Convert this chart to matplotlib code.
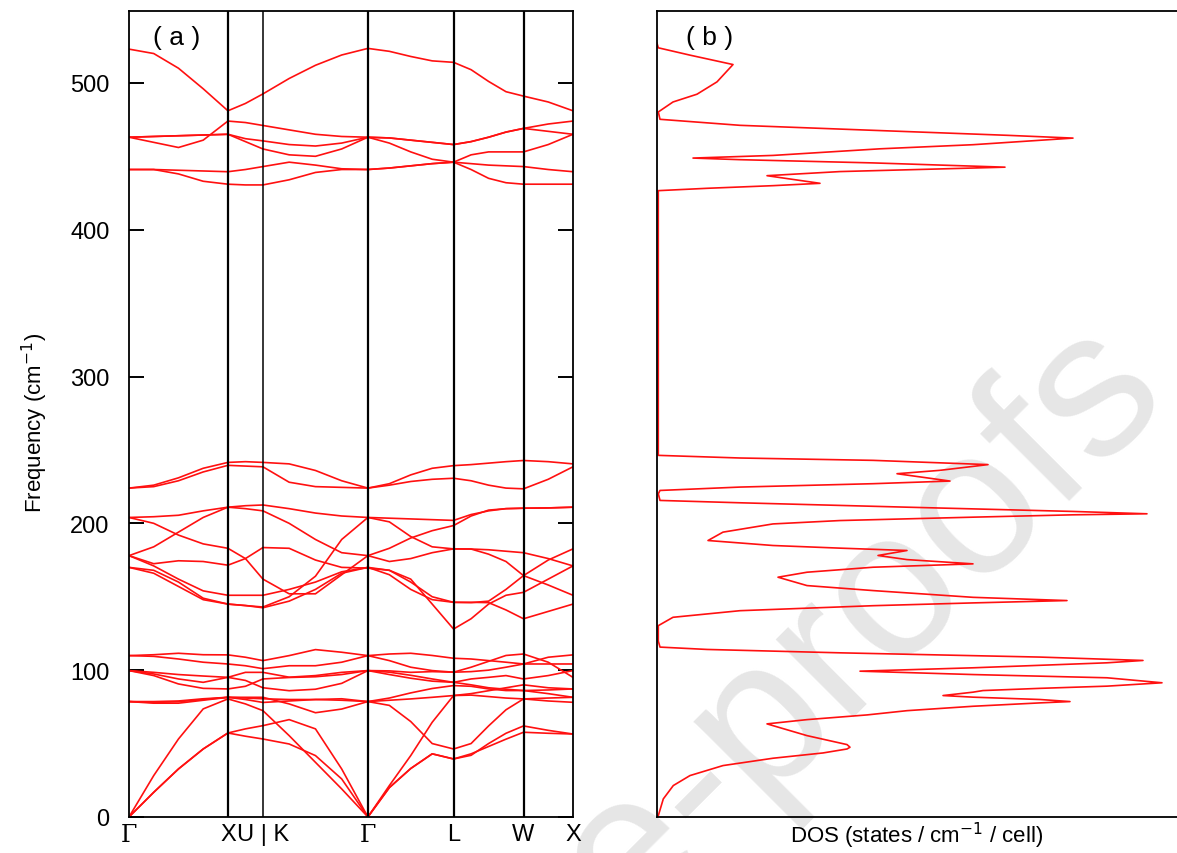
import numpy as np
import matplotlib
matplotlib.use('Agg')
import matplotlib.pyplot as plt

plt.rcParams['font.family'] = ['Liberation Sans', 'DejaVu Sans']

# k-path sampling (units of 2pi/a): G-X, X-U|K, K-G, G-L, L-W, W-X
kpts = [0, 0.25, 0.5, 0.75, 1.0, 1.177, 1.354, 1.619, 1.885, 2.150, 2.415,
        2.632, 2.848, 3.065, 3.281, 3.458, 3.635, 3.811, 3.988, 4.238, 4.488]
kticks = [0, 1.0, 1.354, 2.415, 3.281, 3.988, 4.488]
klabels = ['Γ', 'X', 'U | K', 'Γ', 'L', 'W', 'X']

# phonon branches (cm^-1), read at each k-point
acoustic = [
    [0, 16.8, 32.7, 46.3, 57.2, 60, 62.2, 66.3, 60, 32.7, 0, 20, 33, 43, 39.5, 42, 50, 57, 62, 59, 56.5],
    [0, 16.8, 32.7, 46.3, 57.2, 55, 53.1, 49.7, 41.8, 25.9, 0, 20, 33, 43, 39.5, 43, 48, 53, 57.7, 57, 56.5],
    [0, 28.2, 53.1, 73.6, 80.4, 77, 72.4, 55.4, 37.2, 19.1, 0, 21.4, 41.8, 64.5, 82.7, 84, 86, 88, 90, 88, 87.2],
]
optic_low = [
    [78.6, 77.5, 77.5, 79.5, 81.5, 81, 80.5, 80, 80, 79.5, 78.6, 76, 65, 50, 46.3, 50, 62, 73, 80.4, 79, 78.1],
    [78.6, 78, 78.5, 80, 81.5, 81.5, 81.5, 77, 71, 73.5, 78.6, 81, 84.5, 87.5, 89.5, 89, 87.2, 86.1, 86.1, 84, 81.5],
    [78.6, 78.6, 79, 80.5, 81.5, 80, 78, 79, 80, 80.5, 78.6, 79.5, 80.4, 81.5, 82.7, 83, 82, 81, 80.4, 81, 81.5],
    [99.7, 97.4, 94, 91.7, 95.1, 98.5, 98.5, 95.2, 96.3, 98.5, 99.7, 98.6, 96.5, 94, 91.7, 94, 95.1, 96.3, 94, 96.3, 99.7],
    [99.7, 96.3, 90.6, 87.6, 87.2, 89, 94, 95, 95.5, 97, 99.7, 99.5, 98.5, 99, 98.6, 102, 106, 110, 111, 105.4, 95.1],
    [99.7, 98.5, 97, 96, 95.1, 93, 88, 86, 87, 91, 99.7, 97, 94.5, 92.5, 91.7, 90, 88, 87, 86.1, 86.5, 87.2],
    [109.9, 110.5, 111.5, 110.5, 110.4, 108.8, 106.5, 109.9, 114, 112.2, 109.9, 111, 111.5, 110, 108.1, 107.6, 106.5, 105.4, 104.2, 108.8, 110.4],
    [109.9, 109.4, 107.6, 105.4, 104.2, 103, 101, 103, 103, 105.4, 109.9, 106.5, 102, 99.7, 98.6, 99, 100, 102, 104.2, 104.2, 104.2],
]
optic_mid = [
    [224, 226, 231, 237.5, 241.5, 242, 241.5, 240.5, 236, 229, 224, 227, 233, 237.5, 239.3, 240, 241, 242, 242.8, 242, 240.5],
    [224, 225, 229, 235, 239.5, 239, 238.5, 228, 225, 224.5, 224, 226, 228.5, 230, 230.7, 229, 226, 224, 223.5, 230, 238.5],
    [204, 204.5, 205.5, 208.5, 211, 212, 212.5, 210, 207, 205, 204, 203.5, 203, 202.5, 202, 206, 208.5, 210, 210.3, 210.5, 211],
    [204, 200, 192, 186, 183, 176, 162, 152, 152, 165, 178, 183, 190, 195, 198.5, 205, 209, 210, 210.3, 210.5, 211],
    [178, 184, 194, 204, 211, 210, 208.5, 200, 189, 180, 178, 174, 176, 180, 182.6, 182.5, 182, 181, 180, 176, 171],
    [178, 172.5, 174.5, 174, 171.5, 176, 183.5, 183, 175, 170, 169.5, 168, 160, 150, 146.2, 146.2, 146, 141, 135, 140, 145],
    [178, 171, 162, 154, 151, 151, 151, 155, 160, 167, 170, 168, 162, 145, 128, 135, 145, 151, 153, 162, 171],
    [170, 166, 157, 148, 145, 144, 143, 150, 164, 189, 204, 201, 191, 184, 182.6, 182.5, 179, 174, 164.4, 158, 151],
    [170, 168, 160, 149, 145, 144, 142.5, 147, 155, 166, 170, 165, 155, 148, 146.2, 146, 147, 155, 164.4, 175, 182.6],
]
optic_high = [
    [523, 520, 510, 496, 481, 486, 492.5, 503, 512, 519, 523.5, 521.5, 518, 515, 514, 509, 501, 494, 491, 487, 481],
    [463, 459.5, 456, 461, 474, 473, 471, 468, 465, 463.5, 463, 462.5, 461, 459.5, 458, 460, 463, 466.5, 469, 472, 474],
    [463, 463.5, 464, 464.5, 465, 462, 460.5, 458, 457, 459, 463, 462.5, 461, 459.5, 458, 460, 463, 466.5, 469, 467, 465],
    [463, 463.5, 464, 464.5, 465, 460, 455, 451, 450, 455, 463, 459, 453, 448, 446, 451, 453, 453, 453, 458, 465],
    [441, 441, 440.5, 440, 439.5, 441, 443, 446, 444, 441.5, 441, 442, 443.5, 445, 446, 445, 444, 443.5, 443, 441, 439.5],
    [441, 441, 438, 433, 431, 430.5, 430.5, 434, 439, 441, 441, 442, 443.5, 445, 446, 441, 435, 432, 431, 431, 431],
]

# phonon DOS (arb. units) vs frequency (cm^-1)
dos_freq = [0, 0.9, 12.3, 21.4, 28.2, 35, 40, 43.6, 46.3, 47.5, 49.3, 55.4, 63.4, 66.3, 69.5, 72.4,
            75.4, 77.7, 78.6, 80, 81.6, 82.7, 85, 86.1, 87.6, 89.1, 91.4, 94.8, 97, 99.3, 101.6,
            105, 106.6, 108.9, 111.8, 114.1, 115.7, 119.8, 125.5, 130.3, 136, 140.5, 143.9, 145.8,
            147.4, 149.6, 154.2, 157.6, 163.3, 166.7, 170.1, 172.4, 175.3, 178.1, 181.5, 183.1,
            184.9, 188.3, 194, 199.6, 201.9, 204.2, 205.8, 206.5, 208.1, 211, 214, 215.6, 220.1,
            222.4, 224.7, 227, 228.8, 233.8, 236.1, 240, 242.9, 244.5, 246.3, 426.6, 428.2, 430,
            431.6, 436.8, 439.6, 441.4, 442.6, 445.5, 447.7, 448.8, 450.6, 455.1, 457.9, 462.4,
            464.3, 467.7, 471.1, 475.2, 480.2, 487, 492.3, 500.7, 512.5, 518.9, 523.9, 527]
dos_val = [0, 0.013, 0.063, 0.163, 0.33, 0.66, 1.16, 1.66, 1.90, 1.93, 1.90, 1.50, 1.10, 1.50, 2.10, 2.50,
           3.16, 3.83, 4.13, 3.83, 3.16, 2.86, 3.16, 3.26, 3.83, 4.50, 5.05, 4.50, 3.16, 2.03, 3.16,
           4.50, 4.86, 3.83, 1.83, 0.50, 0.03, 0.013, 0.013, 0.013, 0.16, 0.83, 2.16, 3.16,
           4.10, 3.16, 2.16, 1.50, 1.21, 1.50, 2.16, 3.16, 2.50, 2.21, 2.50, 1.83,
           1.16, 0.51, 0.66, 1.16, 1.83, 3.16, 4.16, 4.90, 4.16, 2.50, 0.83, 0.03, 0.013,
           0.03, 0.83, 2.16, 2.93, 2.40, 2.83, 3.31, 2.16, 0.83, 0.013, 0.013, 0.50, 1.16,
           1.63, 1.10, 1.83, 2.83, 3.48, 2.16, 0.83, 0.36, 1.16, 2.23, 3.16, 4.16,
           3.50, 2.16, 0.83, 0.03, 0.013, 0.16, 0.40, 0.60, 0.76, 0.33, 0.013, 0]

red = '#ff1010'

fig = plt.figure(figsize=(11.77, 8.54), dpi=100)

# watermark
fig.text(0.996, 0.532, 'Journal Pre-proofs', fontsize=150, color='#e6e6e6',
         rotation=45, ha='right', va='baseline', rotation_mode='anchor',
         zorder=-1)

ax1 = fig.add_axes([0.1096, 0.0422, 0.3772, 0.9438])
ax1.set_facecolor('none')
for band in acoustic + optic_low + optic_mid + optic_high:
    ax1.plot(kpts, band, color=red, lw=1.2)
for kx in kticks[1:-1]:
    ax1.axvline(kx, color='black', lw=1.6 if kx != 1.354 else 1.1)
ax1.set_xlim(0, kticks[-1])
ax1.set_ylim(0, 549)
ax1.set_xticks(kticks)
ax1.set_xticklabels(klabels, fontsize=17)
for lab in ax1.get_xticklabels():
    if lab.get_text() == 'Γ':
        lab.set_family('DejaVu Serif')
ax1.tick_params(axis='x', length=0, pad=4)
ax1.set_yticks([0, 100, 200, 300, 400, 500])
ax1.tick_params(axis='y', direction='in', length=11, width=1.4, labelsize=17,
                right=True, pad=14)
for s in ax1.spines.values():
    s.set_linewidth(1.3)
ax1.text(0.055, 0.982, '( a )', transform=ax1.transAxes, fontsize=19, va='top')

fig.text(0.030, 0.505, 'Frequency (cm$^{-1}$)', rotation=90, fontsize=16,
         ha='center', va='center')

ax2 = fig.add_axes([0.5582, 0.0422, 0.4418, 0.9438])
ax2.set_facecolor('none')
ax2.plot(dos_val, dos_freq, color=red, lw=1.2)
ax2.set_xlim(0, 5.20)
ax2.set_ylim(0, 549)
ax2.set_xticks([])
ax2.set_yticks([])
ax2.spines['right'].set_visible(False)
for s in ax2.spines.values():
    s.set_linewidth(1.3)
ax2.text(0.055, 0.982, '( b )', transform=ax2.transAxes, fontsize=19, va='top')
ax2.set_xlabel('DOS (states / cm$^{-1}$ / cell)', fontsize=16, labelpad=2)

fig.savefig('out.png', dpi=100)
